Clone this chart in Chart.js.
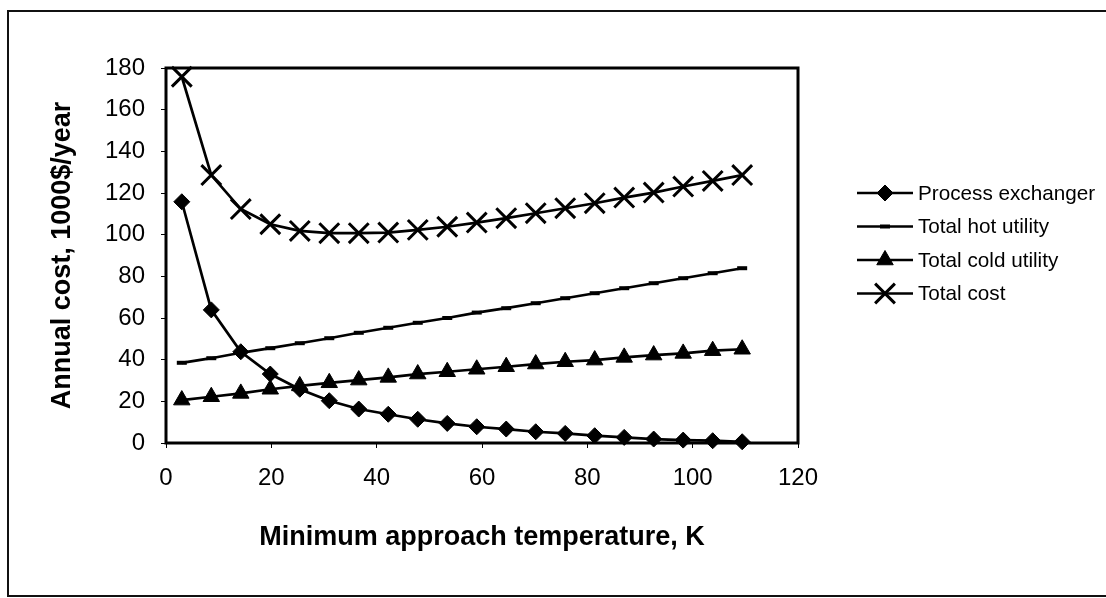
<!DOCTYPE html>
<html>
<head>
<meta charset="utf-8">
<script src="https://cdn.jsdelivr.net/npm/chart.js@4/dist/chart.umd.min.js"></script>
<style>
    html, body { margin: 0; padding: 0; background: #fff; }
    #wrap { width: 1106px; height: 598px; position: relative; }
</style>
</head>
<body>
<div id="wrap"><canvas id="chart-cost"></canvas></div>
<script>
var approachTemps = [3, 8.6, 14.2, 19.8, 25.4, 31, 36.6, 42.2, 47.8, 53.4, 59, 64.6, 70.2, 75.8, 81.4, 87, 92.6, 98.2, 103.8, 109.4];
var processExchanger = [115.8, 63.9, 43.8, 33.1, 25.8, 20.3, 16.3, 13.8, 11.4, 9.4, 7.8, 6.7, 5.4, 4.6, 3.5, 2.7, 1.9, 1.4, 1.1, 0.6];
var hotUtility = [38.5, 40.7, 43.3, 45.5, 47.9, 50.3, 52.9, 55.3, 57.7, 60.0, 62.6, 64.7, 67.1, 69.5, 71.9, 74.3, 76.7, 79.1, 81.5, 83.9];
var coldUtility = [20.6, 22.2, 23.8, 25.8, 27.4, 28.9, 30.2, 31.5, 33.1, 34.2, 35.4, 36.6, 37.9, 39.0, 39.8, 41.1, 42.2, 43.0, 44.3, 45.0];
var totalCost = [175.8, 128.6, 112.3, 105.0, 101.8, 100.7, 100.7, 101.0, 102.3, 103.8, 105.8, 107.9, 110.3, 112.7, 115.1, 117.8, 120.2, 123.1, 125.8, 128.6];

var FONT = "'Liberation Sans', Arial, sans-serif";

function pts(values) {
    return values.map(function (v, i) { return { x: approachTemps[i], y: v }; });
}

function series(label, values, style, radius, pbw) {
    return {
        label: label,
        data: pts(values),
        borderColor: "#000",
        backgroundColor: "#000",
        borderWidth: 2.7,
        pointStyle: style,
        pointRadius: radius,
        pointBorderWidth: pbw,
        pointBackgroundColor: "#000",
        pointBorderColor: "#000",
        tension: 0,
        clip: false
    };
}

// white page, outer frame and the frame round the plot area
var framePlugin = {
    id: "frames",
    beforeDraw: function (chart) {
        var ctx = chart.ctx;
        ctx.save();
        ctx.fillStyle = "#fff";
        ctx.fillRect(0, 0, chart.width, chart.height);
        ctx.restore();
    },
    afterDatasetsDraw: function (chart) {
        var ctx = chart.ctx, a = chart.chartArea;
        ctx.save();
        ctx.strokeStyle = "#000";
        ctx.lineWidth = 3;
        ctx.strokeRect(a.left, a.top, a.right - a.left, a.bottom - a.top);
        ctx.lineWidth = 2;
        ctx.strokeStyle = "#111";
        ctx.strokeRect(8, 11, 1110, 585);
        ctx.restore();
    }
};

// legend: line sample with marker, like the spreadsheet one
var legendPlugin = {
    id: "lineLegend",
    afterDraw: function (chart) {
        var ctx = chart.ctx;
        ctx.save();
        chart.data.datasets.forEach(function (ds, i) {
            var y = 193 + i * 33.5;
            ctx.strokeStyle = "#000";
            ctx.fillStyle = "#000";
            ctx.lineWidth = ds.borderWidth;
            ctx.beginPath();
            ctx.moveTo(857, y);
            ctx.lineTo(913, y);
            ctx.stroke();
            ctx.lineWidth = ds.pointBorderWidth;
            Chart.helpers.drawPoint(ctx, {
                pointStyle: ds.pointStyle,
                radius: ds.pointRadius,
                borderWidth: ds.pointBorderWidth,
                rotation: 0
            }, 885, y);
            ctx.fillStyle = "#000";
            ctx.font = "20.7px " + FONT;
            ctx.textBaseline = "middle";
            ctx.textAlign = "left";
            ctx.fillText(ds.label, 918, y + 1);
        });
        ctx.restore();
    }
};

var chartCost = new Chart(document.getElementById("chart-cost"), {
    type: "line",
    data: {
        datasets: [
            series("Process exchanger", processExchanger, "rectRot", 8, 1),
            series("Total hot utility", hotUtility, "line", 5, 4),
            series("Total cold utility", coldUtility, "triangle", 9.5, 1),
            series("Total cost", totalCost, "crossRot", 14, 3)
        ]
    },
    options: {
        responsive: true,
        maintainAspectRatio: false,
        animation: false,
        events: [],
        layout: { padding: { top: 68, right: 308, left: 0, bottom: 40 } },
        plugins: {
            legend: { display: false },
            tooltip: { enabled: false }
        },
        scales: {
            x: {
                type: "linear",
                min: 0,
                max: 120,
                ticks: { stepSize: 20, color: "#000", padding: 16, font: { family: FONT, size: 24 } },
                grid: { drawOnChartArea: false, drawTicks: true, tickLength: 5, color: "#000", lineWidth: 1 },
                border: { display: false },
                title: {
                    display: true,
                    text: "Minimum approach temperature, K",
                    color: "#000",
                    padding: { top: 0, bottom: 4 },
                    font: { family: FONT, size: 27, weight: "bold" }
                },
                afterFit: function (scale) { scale.height = 115; }
            },
            y: {
                min: 0,
                max: 180,
                ticks: { stepSize: 20, color: "#000", padding: 16, font: { family: FONT, size: 24 } },
                grid: { drawOnChartArea: false, drawTicks: true, tickLength: 5, color: "#000", lineWidth: 1 },
                border: { display: false },
                title: {
                    display: true,
                    text: "Annual cost, 1000$/year",
                    color: "#000",
                    padding: { top: 46, bottom: 0 },
                    font: { family: FONT, size: 27, weight: "bold" }
                },
                afterFit: function (scale) { scale.width = 166; }
            }
        }
    },
    plugins: [framePlugin, legendPlugin]
});
</script>
</body>
</html>
